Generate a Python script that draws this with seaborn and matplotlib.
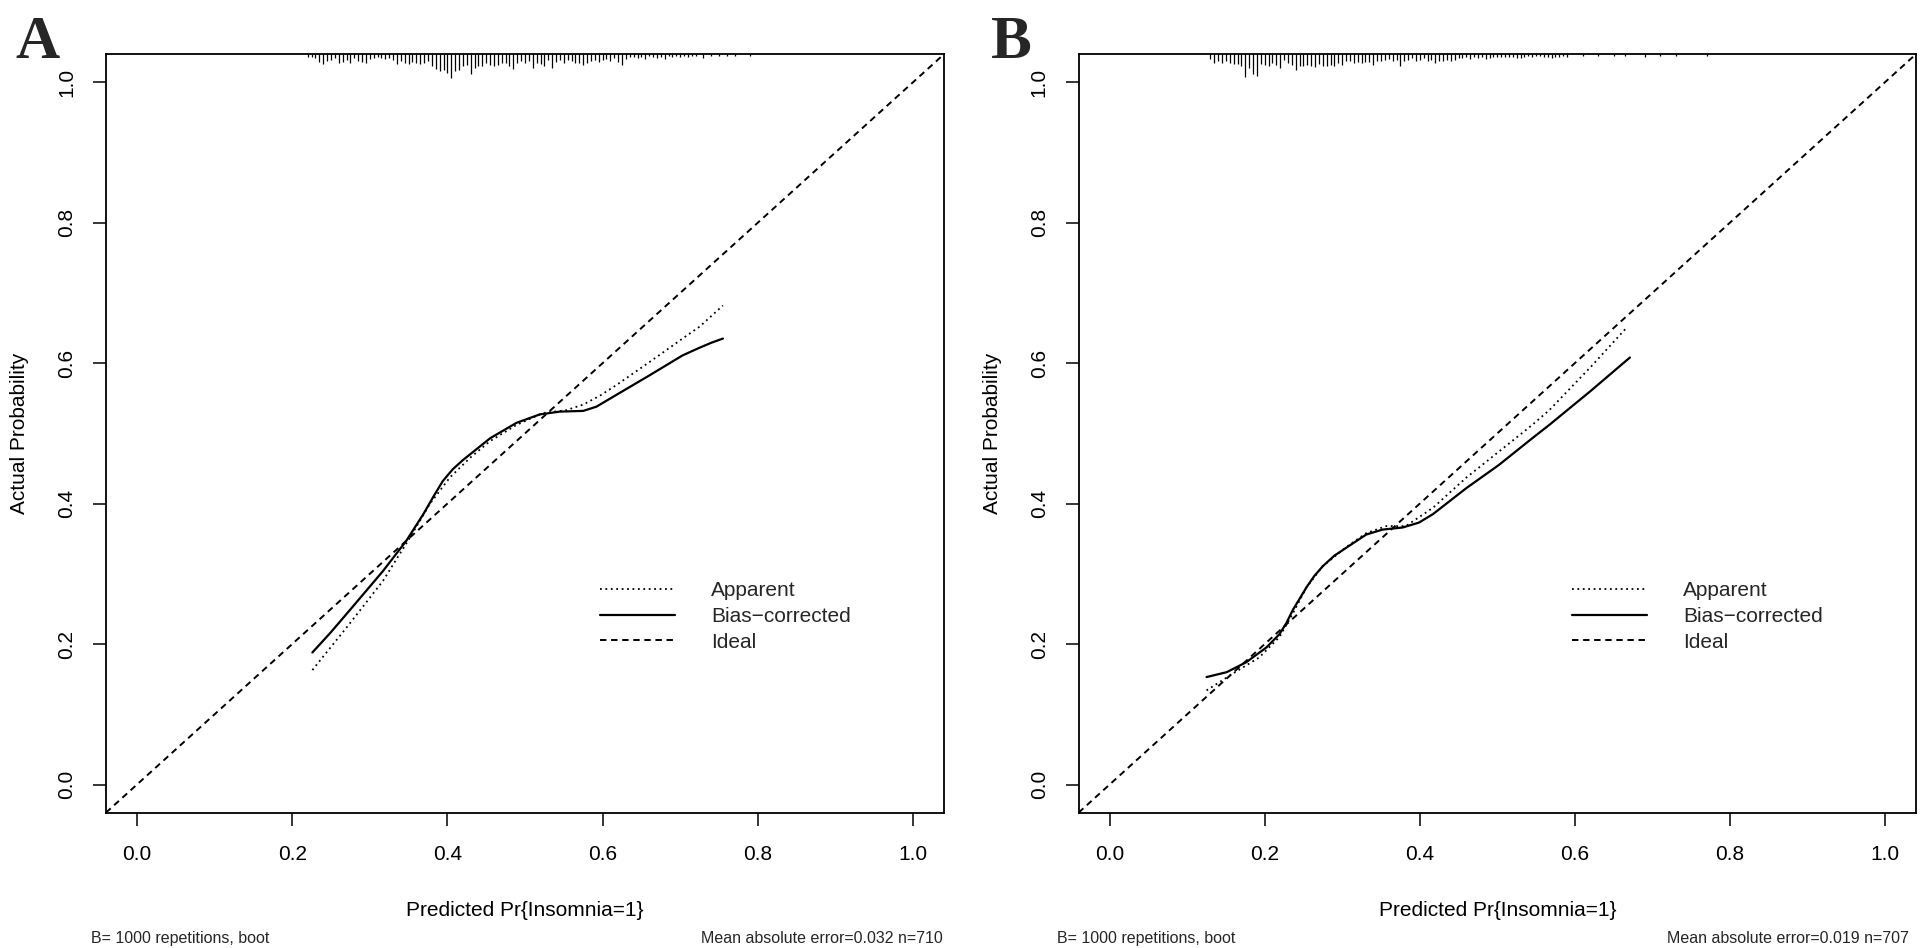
import numpy as np
import pandas as pd
import matplotlib
matplotlib.use("Agg")
import matplotlib.pyplot as plt
from matplotlib.lines import Line2D
import seaborn as sns

# calibration curves (predicted vs actual probability)
a_app_x = [0.226, 0.250, 0.274, 0.317, 0.352, 0.377, 0.403, 0.429, 0.455, 0.489, 0.523, 0.553, 0.575, 0.597, 0.618, 0.661, 0.703, 0.725, 0.755]
a_app_y = [0.163, 0.196, 0.229, 0.290, 0.352, 0.399, 0.437, 0.465, 0.489, 0.512, 0.529, 0.533, 0.541, 0.554, 0.569, 0.602, 0.635, 0.652, 0.682]
a_bc_x = [0.226, 0.250, 0.274, 0.317, 0.347, 0.369, 0.382, 0.394, 0.407, 0.420, 0.455, 0.489, 0.519, 0.545, 0.575, 0.592, 0.618, 0.661, 0.703, 0.725, 0.740, 0.755]
a_bc_y = [0.188, 0.217, 0.248, 0.304, 0.347, 0.385, 0.410, 0.432, 0.449, 0.462, 0.493, 0.515, 0.527, 0.531, 0.532, 0.538, 0.555, 0.583, 0.611, 0.622, 0.629, 0.635]

b_app_x = [0.125, 0.159, 0.193, 0.219, 0.236, 0.254, 0.275, 0.305, 0.331, 0.357, 0.382, 0.417, 0.460, 0.502, 0.545, 0.567, 0.620, 0.668]
b_app_y = [0.134, 0.158, 0.181, 0.210, 0.243, 0.281, 0.311, 0.338, 0.358, 0.368, 0.368, 0.394, 0.437, 0.474, 0.512, 0.533, 0.594, 0.652]
b_bc_x = [0.125, 0.151, 0.176, 0.202, 0.219, 0.228, 0.236, 0.254, 0.264, 0.275, 0.290, 0.305, 0.331, 0.352, 0.378, 0.399, 0.417, 0.460, 0.502, 0.545, 0.567, 0.620, 0.671]
b_bc_y = [0.153, 0.160, 0.174, 0.195, 0.214, 0.230, 0.248, 0.281, 0.297, 0.311, 0.326, 0.337, 0.356, 0.363, 0.366, 0.373, 0.385, 0.422, 0.455, 0.493, 0.512, 0.560, 0.608]

# rug of predicted values along the top (position, relative frequency)
rug_a_x = [0.220, 0.225, 0.230, 0.235, 0.240, 0.245, 0.250, 0.255, 0.260, 0.265,
           0.270, 0.275, 0.280, 0.285, 0.290, 0.295, 0.300, 0.305, 0.310, 0.315,
           0.320, 0.325, 0.330, 0.335, 0.340, 0.345, 0.350, 0.355, 0.360, 0.365,
           0.370, 0.375, 0.380, 0.385, 0.390, 0.395, 0.400, 0.405, 0.410, 0.415,
           0.420, 0.425, 0.430, 0.435, 0.440, 0.445, 0.450, 0.455, 0.460, 0.465,
           0.470, 0.475, 0.480, 0.485, 0.490, 0.495, 0.500, 0.505, 0.510, 0.515,
           0.520, 0.525, 0.530, 0.535, 0.540, 0.545, 0.550, 0.555, 0.560, 0.565,
           0.570, 0.575, 0.580, 0.585, 0.590, 0.595, 0.600, 0.605, 0.610, 0.615,
           0.620, 0.625, 0.630, 0.635, 0.640, 0.645, 0.650, 0.655, 0.660, 0.665,
           0.670, 0.675, 0.680, 0.685, 0.690, 0.695, 0.700, 0.705, 0.710, 0.715,
           0.720, 0.730, 0.740, 0.750, 0.760, 0.770, 0.790]
rug_a_h = [3, 3, 4, 8, 10, 7, 6, 4, 9, 8,
           6, 9, 4, 7, 8, 9, 5, 4, 3, 4,
           5, 4, 6, 10, 7, 9, 10, 8, 9, 10,
           9, 7, 12, 15, 17, 16, 19, 24, 17, 16,
           12, 11, 20, 14, 12, 12, 9, 11, 12, 11,
           9, 9, 12, 15, 9, 7, 9, 7, 14, 9,
           10, 12, 6, 14, 8, 6, 9, 6, 7, 9,
           9, 11, 9, 7, 6, 8, 6, 5, 7, 4,
           8, 11, 5, 3, 3, 4, 3, 5, 2, 3,
           4, 3, 5, 2, 3, 2, 3, 2, 3, 2,
           2, 4, 2, 2, 2, 2, 2]

rug_b_x = [0.130, 0.135, 0.140, 0.145, 0.150, 0.155, 0.160, 0.165, 0.170, 0.175,
           0.180, 0.185, 0.190, 0.195, 0.200, 0.205, 0.210, 0.215, 0.220, 0.225,
           0.230, 0.235, 0.240, 0.245, 0.250, 0.255, 0.260, 0.265, 0.270, 0.275,
           0.280, 0.285, 0.290, 0.295, 0.300, 0.305, 0.310, 0.315, 0.320, 0.325,
           0.330, 0.335, 0.340, 0.345, 0.350, 0.355, 0.360, 0.365, 0.370, 0.375,
           0.380, 0.385, 0.390, 0.395, 0.400, 0.405, 0.410, 0.415, 0.420, 0.425,
           0.430, 0.435, 0.440, 0.445, 0.450, 0.455, 0.460, 0.465, 0.470, 0.475,
           0.480, 0.485, 0.490, 0.495, 0.500, 0.505, 0.510, 0.515, 0.520, 0.525,
           0.530, 0.535, 0.540, 0.545, 0.550, 0.555, 0.560, 0.565, 0.570, 0.575,
           0.580, 0.585, 0.590, 0.610, 0.630, 0.650, 0.665, 0.690, 0.710, 0.730,
           0.770]
rug_b_h = [5, 9, 7, 9, 7, 9, 10, 10, 12, 23,
           14, 20, 22, 10, 11, 12, 9, 11, 14, 6,
           9, 11, 16, 12, 12, 11, 12, 13, 10, 12,
           12, 11, 12, 9, 11, 7, 7, 9, 8, 9,
           8, 8, 11, 7, 7, 6, 5, 7, 6, 12,
           7, 6, 4, 7, 6, 4, 7, 6, 9, 7,
           7, 6, 7, 6, 4, 4, 3, 5, 3, 4,
           3, 5, 4, 3, 3, 3, 3, 3, 3, 4,
           4, 3, 2, 3, 2, 2, 3, 3, 4, 3,
           3, 2, 3, 2, 2, 2, 2, 3, 2, 2,
           2]

ticks = [0.0, 0.2, 0.4, 0.6, 0.8, 1.0]
tick_labels = ["0.0", "0.2", "0.4", "0.6", "0.8", "1.0"]
legend_labels = ["Apparent", "Bias\u2212corrected", "Ideal"]
x_title = "Predicted Pr{Insomnia=1}"
y_title = "Actual Probability"
notes_left = ["B= 1000 repetitions, boot", "B= 1000 repetitions, boot"]
notes_right = ["Mean absolute error=0.032 n=710", "Mean absolute error=0.019 n=707"]

sns.set_theme(style="white")
plt.rcParams["font.family"] = ["Liberation Sans", "DejaVu Sans"]

DOT = (0, (1, 2))
DASH = (0, (3.3, 2.4))


def draw_panel(ax, app_x, app_y, bc_x, bc_y, rug_x, rug_h):
    ax.set_xlim(-0.04, 1.04)
    ax.set_ylim(-0.04, 1.04)
    ax.axline((0, 0), (1, 1), color="black", lw=1.4, ls=DASH)
    app = pd.DataFrame({"x": app_x, "y": app_y})
    bc = pd.DataFrame({"x": bc_x, "y": bc_y})
    sns.lineplot(data=app, x="x", y="y", ax=ax, color="black", lw=1.3, linestyle=DOT, sort=False)
    sns.lineplot(data=bc, x="x", y="y", ax=ax, color="black", lw=1.6, sort=False)
    # rug ticks hanging from the top frame, 1 unit ~ 1 px
    ax.vlines(rug_x, 1 - np.array(rug_h) / 758.0, 1, transform=ax.get_xaxis_transform(),
              color="black", lw=0.9)

    ax.set_xticks(ticks)
    ax.set_xticklabels(tick_labels)
    ax.set_yticks(ticks)
    ax.set_yticklabels(tick_labels, rotation=90, va="center")
    ax.tick_params(axis="both", direction="out", length=9.5, width=1.1, color="black",
                   labelsize=15, labelcolor="black", bottom=True, left=True)
    ax.tick_params(axis="x", pad=14)
    ax.tick_params(axis="y", pad=12)
    for s in ax.spines.values():
        s.set_color("black")
        s.set_linewidth(1.3)

    ax.set_xlabel(x_title, fontsize=15, color="black", va="center")
    ax.xaxis.set_label_coords(0.5, -0.129)
    ax.set_ylabel(y_title, fontsize=15, color="black", va="center")
    ax.yaxis.set_label_coords(-0.103, 0.5)

    handles = [Line2D([], [], color="black", lw=1.3, ls=DOT),
               Line2D([], [], color="black", lw=1.6),
               Line2D([], [], color="black", lw=1.4, ls=DASH)]
    ax.legend(handles, legend_labels, loc="upper left", bbox_to_anchor=(0.596, 0.2895),
              bbox_transform=ax.transData, frameon=False, fontsize=15,
              handlelength=3.6, handletextpad=1.75, labelspacing=0.32,
              borderpad=0, borderaxespad=0)


fig = plt.figure(figsize=(19.33, 9.48), dpi=100)
ax_a = fig.add_axes([0.0548, 0.1428, 0.4336, 0.8001])
ax_b = fig.add_axes([0.5580, 0.1428, 0.4332, 0.8001])

draw_panel(ax_a, a_app_x, a_app_y, a_bc_x, a_bc_y, rug_a_x, rug_a_h)
draw_panel(ax_b, b_app_x, b_app_y, b_bc_x, b_bc_y, rug_b_x, rug_b_h)

# panel letters
fig.text(0.0078, 0.984, "A", fontsize=44, fontweight="bold", va="top", ha="left",
         family=["Liberation Serif", "DejaVu Serif"])
fig.text(0.5125, 0.984, "B", fontsize=44, fontweight="bold", va="top", ha="left",
         family=["Liberation Serif", "DejaVu Serif"])

# footnotes
fig.text(0.047, 0.0048, notes_left[0], fontsize=11.5, va="baseline", ha="left")
fig.text(0.4875, 0.0048, notes_right[0], fontsize=11.5, va="baseline", ha="right")
fig.text(0.547, 0.0048, notes_left[1], fontsize=11.5, va="baseline", ha="left")
fig.text(0.9876, 0.0048, notes_right[1], fontsize=11.5, va="baseline", ha="right")

fig.savefig("out.png", dpi=100, facecolor="white")
